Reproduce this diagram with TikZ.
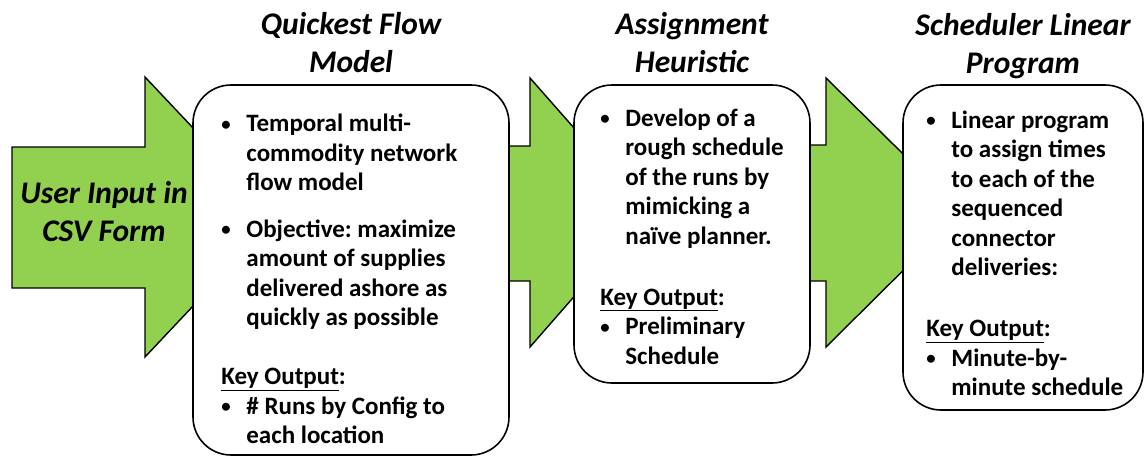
\documentclass[tikz,border=0pt]{standalone}
\usepackage{fontspec}
\setmainfont{Carlito}
\usetikzlibrary{positioning}
\definecolor{arrowgreen}{RGB}{146,208,80}
\newlength{\bulletw}
\setlength{\bulletw}{25pt}
\newcommand{\bitem}[1]{\makebox[\bulletw][l]{\raisebox{1.5pt}{\scalebox{0.75}{\textbullet}}}\begin{tabular}[t]{@{}l@{}}#1\end{tabular}}
\frenchspacing
\tikzset{
stagebox/.style={
    draw, line width=1.6pt,
    rounded corners=38pt,
    fill=white
},
flowarrow/.style={
    draw, line width=1.4pt,
    fill=arrowgreen
},
stagetitle/.style={
    align=center, inner sep=0pt,
    font=\fontsize{31.5}{38}\selectfont\bfseries\itshape
},
stagetext/.style={
    align=left, inner sep=0pt,
    font=\fontsize{25}{29.5}\selectfont\bfseries
},
}

\begin{document}
\begin{tikzpicture}[x=1pt, y=-1pt]
\useasboundingbox (0,0) rectangle (1145,458);
% green arrows, the boxes hide their tips
\draw[flowarrow] (12,147) -- (145,147) -- (145,77) -- (277,217) -- (145,357) -- (145,288) -- (12,288) -- cycle;
\draw[flowarrow] (480,146) -- (530,146) -- (530,78) -- (648,212) -- (530,347) -- (530,281) -- (480,281) -- cycle;
\draw[flowarrow] (790,145) -- (826,145) -- (826,78) -- (962,212) -- (826,347) -- (826,281) -- (790,281) -- cycle;
\node[stagetitle] (input) at (104,212) {User Input in\\CSV Form};

% first stage
\node[stagebox, minimum width=316pt, minimum height=370pt] (box1) at (351,270) {};
\node[stagetitle, above=11pt of box1] (title1) {Quickest Flow\\Model};
\node[stagetext, below right=26.5pt and 29pt of box1.north west] (text1) {%
    \bitem{Temporal multi-\\commodity network\\flow model}\\[16pt]
    \bitem{Objective: maximize\\amount of supplies\\delivered ashore as\\quickly as possible}\\[33pt]
    \underline{Key Output}:\\
    \bitem{\# Runs by Config to\\each location}
};

% second stage
\node[stagebox, minimum width=236pt, minimum height=298pt] (box2) at (692,234) {};
\node[stagetitle, above=11pt of box2] (title2) {Assignment\\Heuristic};
\node[stagetext, below right=21pt and 27pt of box2.north west] (text2) {%
    \bitem{Develop of a\\rough schedule\\of the runs by\\mimicking a\\naïve planner.}\\[35pt]
    \underline{Key Output}:\\
    \bitem{Preliminary\\Schedule}
};

% third stage
\node[stagebox, minimum width=240pt, minimum height=325pt] (box3) at (1023,247.5) {};
\node[stagetitle, above=5pt of box3] (title3) {Scheduler Linear\\Program};
\node[stagetext, below right=23pt and 24pt of box3.north west] (text3) {%
    \bitem{Linear program\\to assign times\\to each of the\\sequenced\\connector\\deliveries:}\\[35pt]
    \underline{Key Output}:\\
    \bitem{Minute-by-\\minute schedule}
};

\end{tikzpicture}
\end{document}
